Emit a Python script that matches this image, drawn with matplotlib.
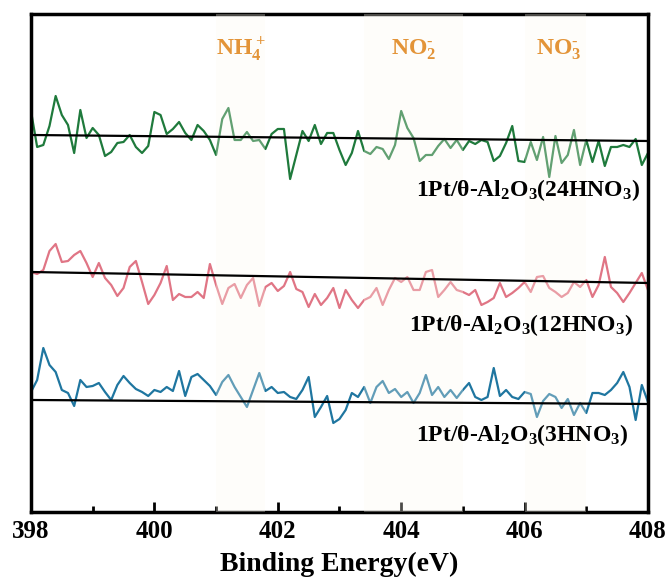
import numpy as np
import matplotlib
matplotlib.use('Agg')
import matplotlib.pyplot as plt

plt.rcParams['font.family'] = ['Liberation Serif', 'DejaVu Serif']
plt.rcParams['font.weight'] = 'bold'
plt.rcParams['mathtext.default'] = 'regular'

# binding energy axis, 0.1 eV step
energy = np.round(np.arange(398.0, 408.0001, 0.1), 1)

# intensities (arb. units, already stacked)
i_24 = [370, 334, 336, 355, 385, 366, 356, 328, 371, 343, 353, 346, 325, 329, 338, 339, 346, 334,
        328, 335, 369, 366, 347, 352, 359, 348, 341, 356, 350, 341, 326, 362, 373, 341, 341, 349,
        340, 341, 332, 347, 352, 352, 302, 326, 350, 340, 356, 337, 348, 348, 331, 316,
        328, 350, 330, 327, 334, 332, 322, 336, 370, 353, 343, 320, 326, 326, 335, 342, 333, 341,
        331, 340, 337, 341, 339, 320, 325, 338, 355, 320, 319, 339, 321, 344, 304, 345, 318, 326,
        351, 316, 341, 319, 340, 315, 334, 334, 336, 334, 342, 316, 328]
i_12 = [209, 207, 211, 230, 237, 219, 220, 226, 230, 218, 204, 218, 203, 196, 185, 193, 214, 220,
        199, 177, 186, 198, 215, 181, 187, 184, 184, 189, 183, 217, 196, 177, 193, 197, 183, 196,
        203, 175, 194, 198, 190, 195, 209, 192, 189, 174, 187, 176, 183, 193, 173, 191,
        181, 173, 181, 184, 193, 176, 191, 203, 199, 204, 191, 191, 209, 211, 184, 191, 199, 191,
        189, 186, 191, 176, 179, 183, 198, 184, 188, 193, 199, 189, 204, 205, 193, 189, 184, 188,
        199, 194, 201, 184, 196, 224, 194, 188, 179, 188, 198, 208, 191]
i_3 = [89, 101, 133, 116, 109, 91, 88, 75, 101, 94, 95, 98, 89, 81, 96, 105, 98, 92, 89, 85, 91,
       89, 94, 90, 110, 85, 104, 107, 101, 95, 86, 99, 106, 94, 84, 74, 91, 108, 90, 94, 88, 89,
       84, 82, 91, 104, 64, 74, 85, 58, 62, 71,
       88, 84, 94, 78, 94, 100, 88, 92, 84, 89, 78, 88, 106, 86, 94, 84, 91, 83, 91, 98, 84, 81,
       84, 113, 85, 91, 84, 82, 89, 87, 64, 80, 87, 84, 73, 82, 66, 78, 68, 88, 88, 86, 91, 98,
       109, 94, 61, 96, 79]

# linear backgrounds (value at 398 eV, value at 408 eV)
bg_24 = [346, 340]
bg_12 = [209, 198]
bg_3 = [81, 77]

samples = ['1Pt/θ-Al$_2$O$_3$(24HNO$_3$)', '1Pt/θ-Al$_2$O$_3$(12HNO$_3$)',
           '1Pt/θ-Al$_2$O$_3$(3HNO$_3$)']
colors = ['#1F7A3C', '#E07585', '#1F76A0']

# N species regions
regions = [(401.0, 401.8), (403.4, 405.0), (406.0, 407.0)]
species = ['NH$_4^+$', 'NO$_2^{‐}$', 'NO$_3^{‐}$']
species_x = [401.4, 404.2, 406.55]


def main():
    fig = plt.figure(figsize=(6.69, 5.83), dpi=100)
    ax = fig.add_axes([0.0463, 0.1218, 0.9223, 0.8542])

    for y, bg, c in zip([i_24, i_12, i_3], [bg_24, bg_12, bg_3], colors):
        ax.plot(energy, y, color=c, lw=1.6, zorder=2)
        ax.plot([398, 408], bg, color='black', lw=1.6, zorder=4)

    # pale bands drawn over the spectra (they wash the lines out a bit)
    for (x0, x1) in regions:
        ax.axvspan(x0, x1, color='#FEFAF0', alpha=0.3, lw=0, zorder=3)

    for lab, x in zip(species, species_x):
        ax.text(x, 431, lab, color='#E39438', fontsize=17, ha='center', va='center',
                fontweight='bold')

    label_pos = [(407.87, 291), (407.76, 156), (407.68, 46)]
    for lab, (x, y) in zip(samples, label_pos):
        ax.text(x, y, lab, color='black', fontsize=17, ha='right', va='center',
                fontweight='bold', zorder=5)

    ax.set_xlim(398, 408)
    ax.set_ylim(-31, 467)
    ax.set_xticks(np.arange(398, 409, 2))
    ax.set_xticks(np.arange(399, 408, 2), minor=True)
    ax.set_yticks([])
    ax.tick_params(axis='x', which='major', direction='in', length=7, width=2,
                   labelsize=18, pad=6)
    ax.tick_params(axis='x', which='minor', direction='in', length=4, width=2)
    for s in ax.spines.values():
        s.set_linewidth(2.5)
    for t in ax.get_xticklabels():
        t.set_fontweight('bold')
    ax.set_xlabel('Binding Energy(eV)', fontsize=20, fontweight='bold', labelpad=6)

    fig.savefig('out.png', dpi=100)


if __name__ == '__main__':
    main()
